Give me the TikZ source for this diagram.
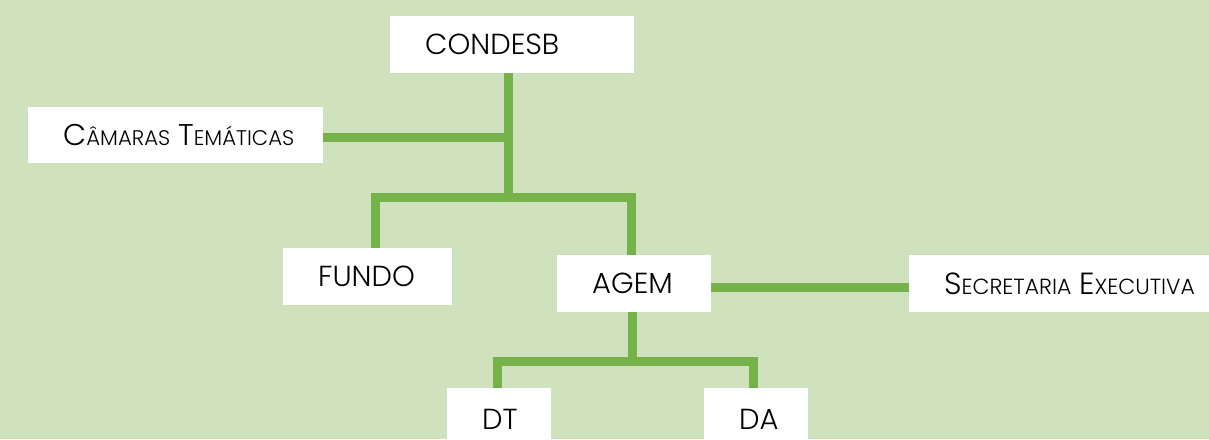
\documentclass[tikz,border=0pt]{standalone}
\usepackage{fontspec}
\setmainfont{Poppins Light}
\definecolor{bg}{HTML}{D0E1BD}
\definecolor{ln}{HTML}{76B24A}
\newcommand\fakesc[4]{{\fontsize{#3}{#3}\selectfont #1}{\fontsize{#4}{#4}\selectfont #2}}
\newcommand\boxtext[2]{\makebox[#1][l]{\hspace{35pt}#2}}
\begin{document}
\begin{tikzpicture}[x=1pt,y=-1pt,
  box/.style={fill=white, inner sep=0pt, anchor=north west, text=black,
              font=\fontsize{29}{32}\selectfont},
  conn/.style={draw=ln, line width=9pt, line join=miter}]
\fill[bg] (0,0) rectangle (1209,439);
\useasboundingbox (0,0) rectangle (1209,439);
\clip (0,0) rectangle (1209,439);
% boxes
\node[box, minimum height=57pt] (condesb) at (390,16) {\boxtext{244pt}{CONDESB}};
\node[box, minimum height=56pt] (camaras) at (28,107) {\boxtext{295pt}{\fakesc{C}{ÂMARAS}{30}{21.2} \fakesc{T}{EMÁTICAS}{30}{21.2}}};
\node[box, minimum height=57pt] (fundo) at (283,248) {\boxtext{169pt}{FUNDO}};
\node[box, minimum height=57pt] (agem) at (557,255) {\boxtext{154pt}{AGEM}};
\node[box, minimum height=57pt] (secr) at (909,255) {\boxtext{310pt}{\fakesc{S}{ECRETARIA}{30.6}{21.9} \fakesc{E}{XECUTIVA}{30.6}{21.9}}};
\node[box, minimum height=62pt] (dt) at (447,388) {\boxtext{104pt}{DT}};
\node[box, minimum height=62pt] (da) at (704,388) {\boxtext{104pt}{DA}};
% junctions
\coordinate (jtop) at (508.5,197);
\coordinate (jcam) at (508.5,137);
\coordinate (fx) at (375,197);
\coordinate (ax) at (631.5,197);
\coordinate (jbot) at (632,361);
\coordinate (tx) at (497,361);
\coordinate (dx) at (753.5,361);
% connectors
\draw[conn] (condesb.south -| jtop) -- (jtop);
\draw[conn] (camaras.east |- jcam) -- (jcam);
\draw[conn] (fundo.north -| fx) -- (fx) -- (ax) -- (agem.north -| ax);
\draw[conn] (agem.east |- 0,287) -- (secr.west |- 0,287);
\draw[conn] (agem.south -| jbot) -- (jbot);
\draw[conn] (dt.north -| tx) -- (tx) -- (dx) -- (da.north -| dx);
\end{tikzpicture}
\end{document}
